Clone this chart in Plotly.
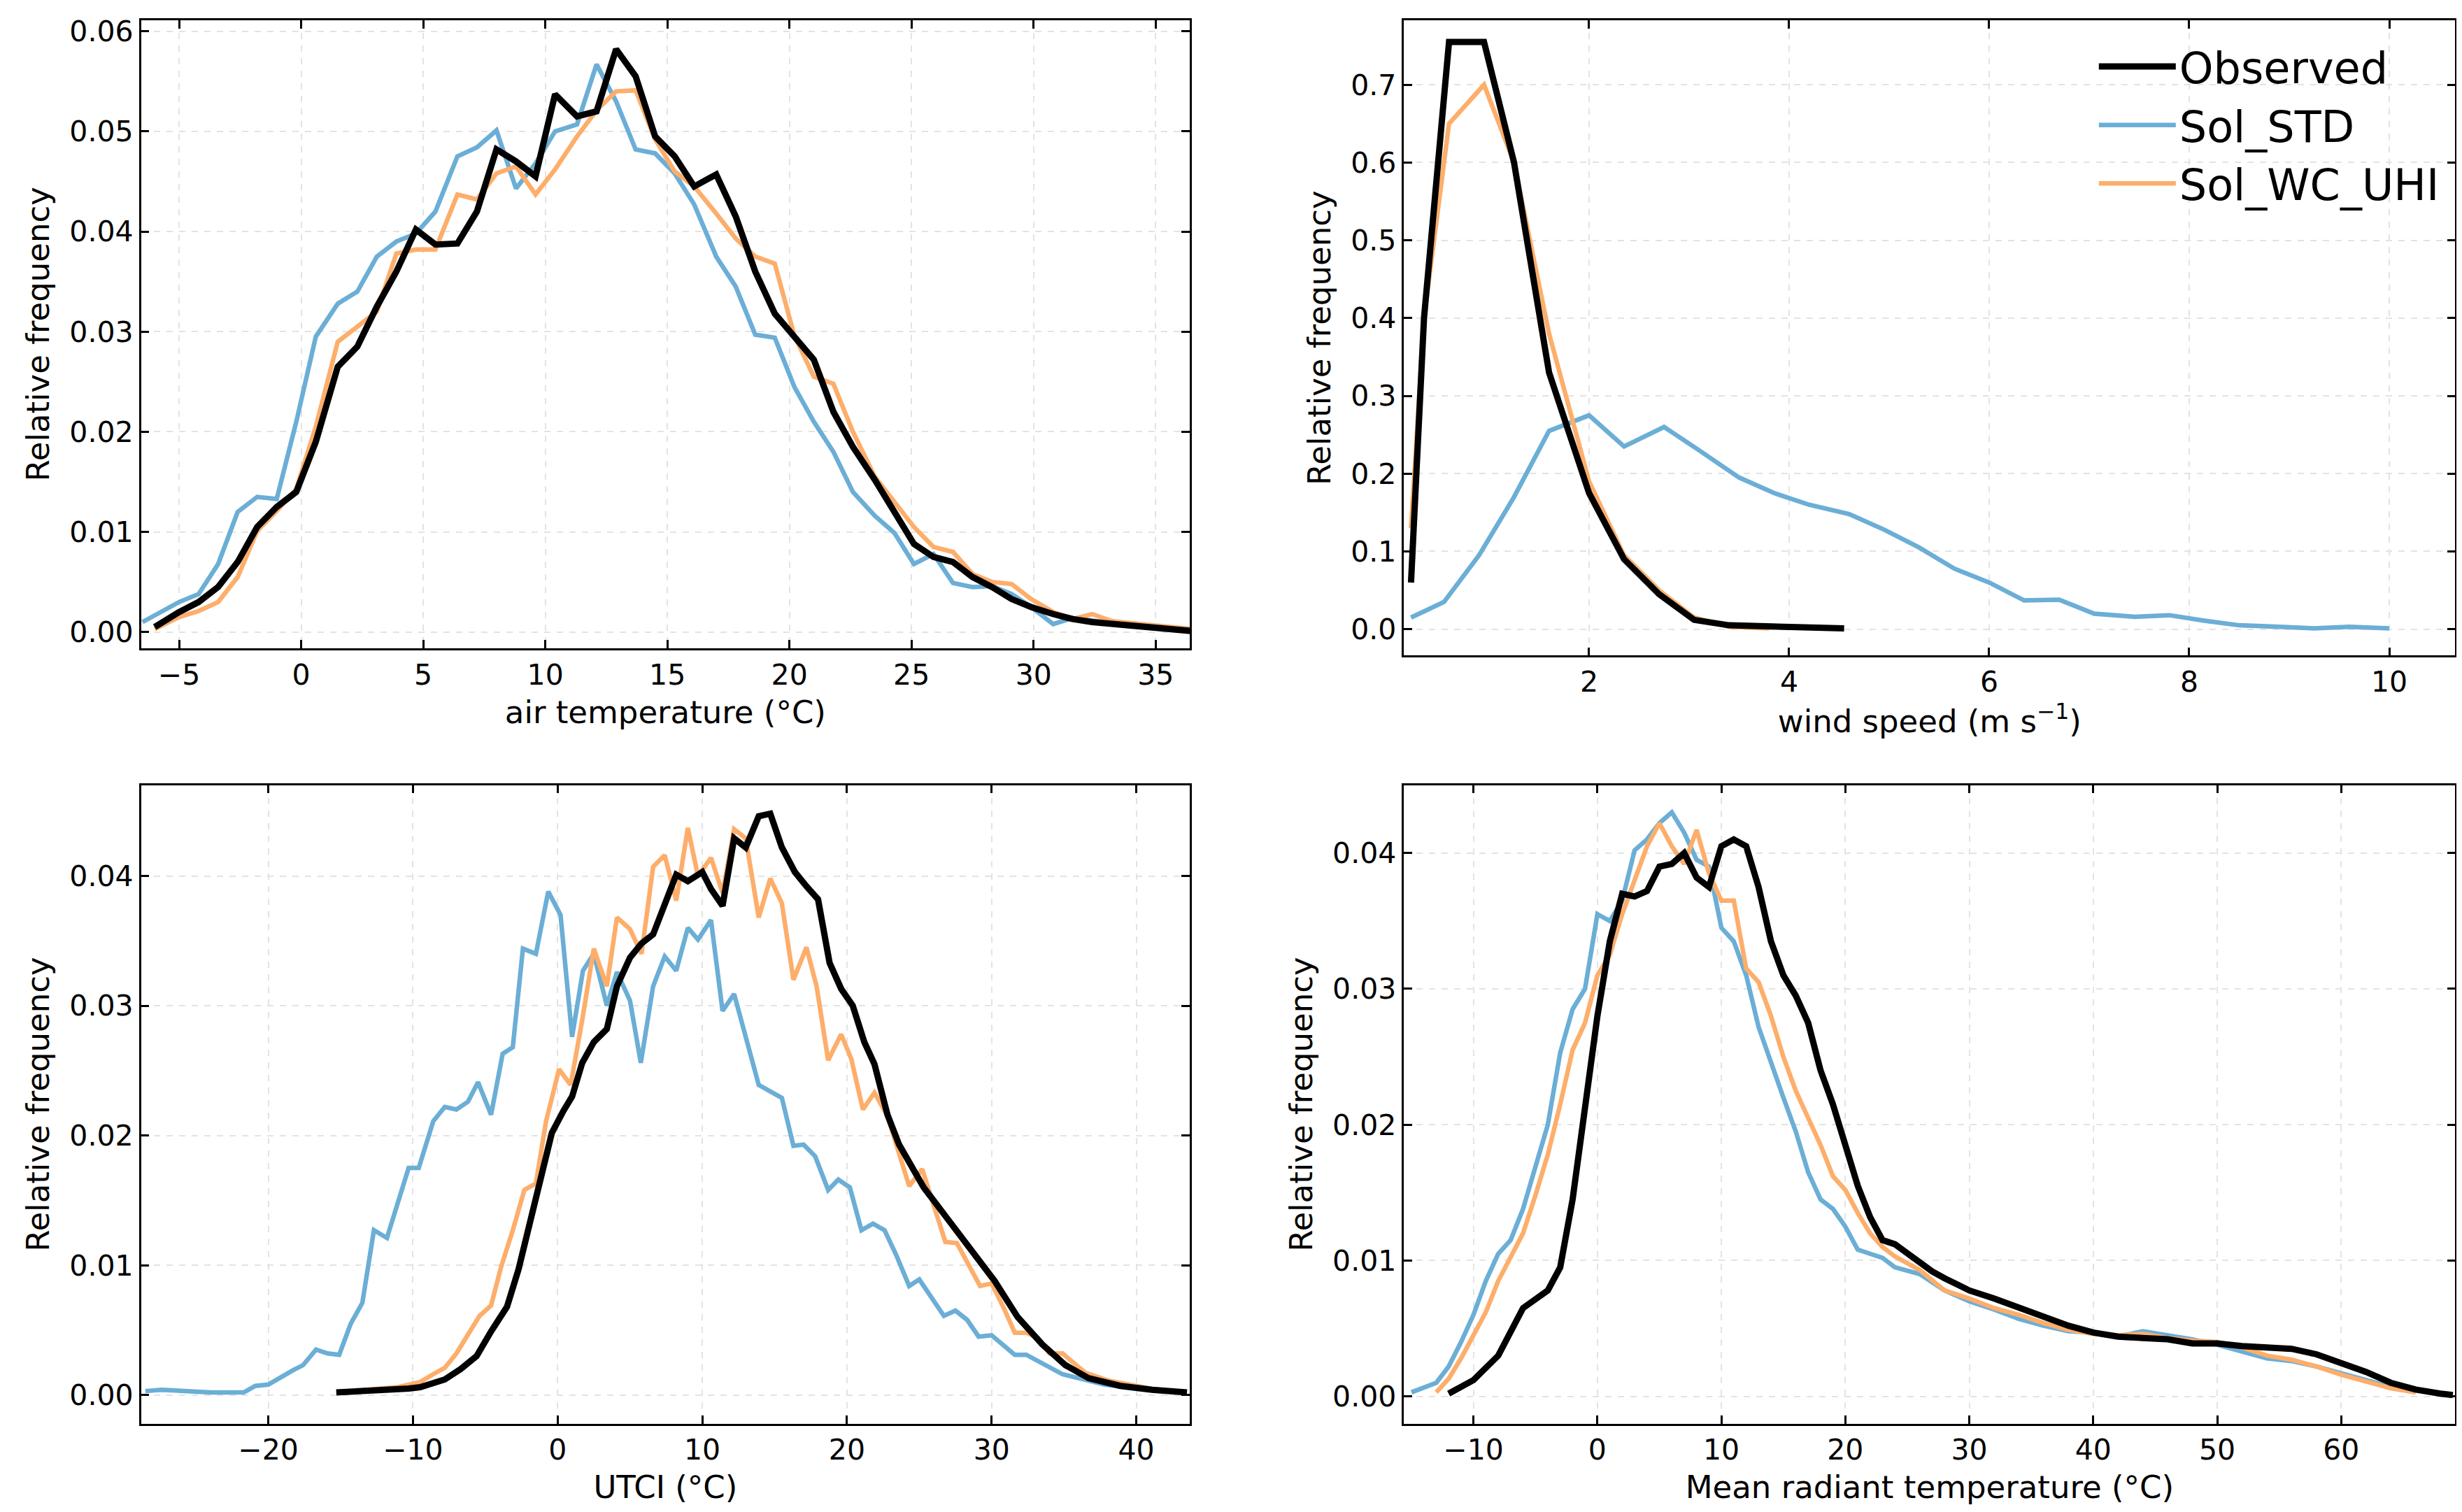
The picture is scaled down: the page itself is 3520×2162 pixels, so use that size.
import plotly.graph_objects as go
from plotly.subplots import make_subplots

# ---- air temperature ----
ta_obs_x = [-6, -5, -4.2, -3.4, -2.6, -1.8, -1, -0.2, 0.6, 1.5, 2.3, 3.1, 3.9, 4.7, 5.5, 6.4, 7.2, 8, 8.8, 9.6, 10.4, 11.3, 12.1, 12.9, 13.7, 14.5, 15.3, 16.1, 17, 17.8, 18.6, 19.4, 20.2, 21, 21.8, 22.6, 23.5, 24.3, 25.1, 25.9, 26.7, 27.5, 28.3, 29.1, 29.9, 30.8, 31.6, 32.4, 33.2, 34, 35.5, 36.5]
ta_obs_y = [0.0005, 0.002, 0.003, 0.0045, 0.007, 0.0105, 0.0125, 0.014, 0.019, 0.0265, 0.0285, 0.0325, 0.036, 0.0402, 0.0387, 0.0388, 0.042, 0.0482, 0.047, 0.0455, 0.0537, 0.0515, 0.052, 0.0582, 0.0555, 0.0495, 0.0475, 0.0445, 0.0457, 0.0415, 0.036, 0.0318, 0.0295, 0.0272, 0.022, 0.0185, 0.0152, 0.012, 0.0088, 0.0075, 0.007, 0.0055, 0.0045, 0.0033, 0.0025, 0.0018, 0.0013, 0.001, 0.0008, 0.0006, 0.0003, 0.0001]
ta_std_x = [-6.5] + ta_obs_x[1:]
ta_std_y = [0.001, 0.003, 0.0038, 0.0068, 0.012, 0.0135, 0.0133, 0.021, 0.0295, 0.0328, 0.034, 0.0375, 0.039, 0.0398, 0.042, 0.0475, 0.0484, 0.0501, 0.0443, 0.0468, 0.05, 0.0507, 0.0567, 0.053, 0.0482, 0.0478, 0.0458, 0.0427, 0.0375, 0.0345, 0.0297, 0.0294, 0.0245, 0.021, 0.018, 0.014, 0.0116, 0.0099, 0.0068, 0.0078, 0.0049, 0.0045, 0.0046, 0.0038, 0.0025, 0.0008, 0.0014, 0.0012, 0.0009, 0.0006, 0.0004, 0.0002]
ta_uhi_x = ta_obs_x
ta_uhi_y = [0.0003, 0.0015, 0.0021, 0.003, 0.0055, 0.0101, 0.0121, 0.0143, 0.0205, 0.029, 0.0305, 0.032, 0.0378, 0.0382, 0.0382, 0.0437, 0.0432, 0.0458, 0.0465, 0.0437, 0.0462, 0.0495, 0.0521, 0.054, 0.0541, 0.0492, 0.046, 0.0445, 0.0418, 0.0393, 0.0375, 0.0368, 0.0296, 0.0255, 0.0248, 0.02, 0.0155, 0.013, 0.0105, 0.0085, 0.008, 0.0058, 0.005, 0.0048, 0.0033, 0.002, 0.0013, 0.0018, 0.0011, 0.0009, 0.0006, 0.0003]

# ---- wind speed ----
ws_obs_x = [0.22, 0.35, 0.6, 0.95, 1.25, 1.6, 2.0, 2.35, 2.7, 3.05, 3.4, 3.8, 4.2, 4.55]
ws_obs_y = [0.06, 0.4, 0.755, 0.755, 0.6, 0.33, 0.175, 0.09, 0.045, 0.012, 0.005, 0.003, 0.001, 0.001]
ws_uhi_x = [0.22, 0.35, 0.6, 0.95, 1.25, 1.6, 2.0, 2.35, 2.7, 3.05, 3.4, 3.8]
ws_uhi_y = [0.13, 0.4, 0.65, 0.7, 0.6, 0.38, 0.19, 0.095, 0.05, 0.015, 0.003, 0.001]
ws_std_x = [0.22, 0.55, 0.9, 1.25, 1.6, 2.0, 2.35, 2.75, 3.1, 3.5, 3.85, 4.2, 4.6, 4.95, 5.3, 5.65, 6.0, 6.35, 6.7, 7.05, 7.45, 7.8, 8.15, 8.5, 8.9, 9.25, 9.6, 10.0]
ws_std_y = [0.015, 0.035, 0.095, 0.17, 0.255, 0.275, 0.235, 0.26, 0.23, 0.195, 0.175, 0.16, 0.148, 0.128, 0.105, 0.078, 0.06, 0.037, 0.038, 0.02, 0.016, 0.018, 0.011, 0.005, 0.003, 0.001, 0.003, 0.001]

# ---- UTCI ----
ut_std_x = [-28.5, -27.4, -24, -21.7, -20.9, -20, -18.3, -17.6, -16.7, -15.9, -15.1, -14.3, -13.5, -12.7, -11.8, -10.3, -9.6, -8.6, -7.8, -7, -6.2, -5.5, -4.6, -3.8, -3.1, -2.4, -1.5, -0.65, 0.2, 1, 1.75, 2.5, 3.4, 4.1, 5, 5.75, 6.6, 7.4, 8.2, 9, 9.7, 10.6, 11.4, 12.2, 13.9, 15.5, 16.3, 17, 17.8, 18.7, 19.4, 20.2, 21, 21.8, 22.6, 23.4, 24.3, 25, 26.7, 27.5, 28.3, 29.1, 30, 31.6, 32.4, 34.9, 37.8, 41.6, 43.5]
ut_std_y = [0.0003, 0.0004, 0.0002, 0.0002, 0.0007, 0.0008, 0.0019, 0.0023, 0.0035, 0.0032, 0.0031, 0.0055, 0.0071, 0.0127, 0.0121, 0.0175, 0.0175, 0.0211, 0.0222, 0.022, 0.0226, 0.0241, 0.0216, 0.0263, 0.0268, 0.0344, 0.034, 0.0388, 0.037, 0.0276, 0.0327, 0.034, 0.030, 0.0326, 0.0304, 0.0256, 0.0315, 0.0338, 0.0327, 0.036, 0.0351, 0.0366, 0.0296, 0.0309, 0.0239, 0.0229, 0.0192, 0.0193, 0.0184, 0.0158, 0.0166, 0.016, 0.0127, 0.0132, 0.0127, 0.0108, 0.0084, 0.0089, 0.0061, 0.0065, 0.0058, 0.0045, 0.0046, 0.0031, 0.0031, 0.0016, 0.0008, 0.0003, 0.0002]
ut_obs_x = [-15.3, -12.7, -10.3, -9.5, -7.8, -6.7, -5.6, -4.6, -3.5, -2.7, -1.8, -1, -0.4, 0.4, 1, 1.7, 2.5, 3.4, 4.1, 5, 5.8, 6.6, 7.4, 8.2, 9, 10, 10.6, 11.4, 12.2, 13, 13.9, 14.7, 15.5, 16.4, 17.2, 18, 18.8, 19.6, 20.4, 21.2, 21.9, 22.8, 23.6, 24.5, 25.3, 26.8, 28.6, 30.2, 31.8, 33.5, 35.1, 36.7, 38.9, 41.1, 43.5]
ut_obs_y = [0.0002, 0.0003, 0.0005, 0.0006, 0.0012, 0.002, 0.003, 0.0049, 0.0068, 0.0097, 0.0138, 0.0171, 0.0202, 0.0219, 0.023, 0.0256, 0.0272, 0.0282, 0.0315, 0.0337, 0.0348, 0.0355, 0.0377, 0.0401, 0.0396, 0.0403, 0.039, 0.0377, 0.0429, 0.0422, 0.0446, 0.0448, 0.0422, 0.0403, 0.0392, 0.0382, 0.0333, 0.0313, 0.030, 0.0272, 0.0255, 0.0216, 0.0193, 0.0175, 0.016, 0.0138, 0.0111, 0.0088, 0.006, 0.0039, 0.0023, 0.0013, 0.0007, 0.0004, 0.0002]
ut_uhi_x = [-15.3, -12.7, -11.1, -10.3, -9.5, -8.6, -7.8, -7, -6.2, -5.4, -4.6, -3.9, -3.1, -2.3, -1.5, -0.8, 0.1, 0.9, 1.7, 2.5, 3.4, 4.1, 5, 5.8, 6.6, 7.4, 8.2, 9, 9.7, 10.6, 11.4, 12.2, 13, 13.9, 14.7, 15.5, 16.3, 17.2, 17.9, 18.7, 19.6, 20.3, 21.1, 21.9, 22.8, 23.6, 24.3, 25.2, 26, 26.8, 27.6, 28.4, 29.2, 30, 30.8, 31.6, 32.4, 33.2, 34, 34.9, 36.5, 38.1, 39.8, 41.4, 43.5]
ut_uhi_y = [0.0002, 0.0004, 0.0006, 0.0008, 0.001, 0.0016, 0.0021, 0.0032, 0.0047, 0.0061, 0.0069, 0.0099, 0.0127, 0.0158, 0.0163, 0.0211, 0.0251, 0.0239, 0.0289, 0.0344, 0.0315, 0.0368, 0.0359, 0.034, 0.0407, 0.0416, 0.0381, 0.0437, 0.040, 0.0414, 0.0387, 0.0436, 0.0429, 0.0368, 0.0398, 0.0379, 0.032, 0.0345, 0.0315, 0.0258, 0.0278, 0.0259, 0.022, 0.0233, 0.0215, 0.0186, 0.0161, 0.0174, 0.0145, 0.0118, 0.0117, 0.0101, 0.0084, 0.0086, 0.0068, 0.0048, 0.0048, 0.0044, 0.0032, 0.0032, 0.0017, 0.0011, 0.0007, 0.0004, 0.0002]

# ---- mean radiant temperature ----
mrt_obs_x = [-12, -10, -8, -6, -4, -3, -2, -1, 0, 1, 2, 3, 4, 5, 6, 7, 8, 9, 10, 11, 12, 13, 14, 15, 16, 17, 18, 19, 20, 21, 22, 23, 24, 25, 26, 27, 28, 29, 30, 32, 34, 36, 38, 40, 42, 44, 46, 48, 50, 52, 54, 56, 58, 60, 62, 64, 66, 68, 69]
mrt_obs_y = [0.0002, 0.0012, 0.003, 0.0065, 0.0078, 0.0095, 0.0145, 0.021, 0.028, 0.0335, 0.037, 0.0368, 0.0372, 0.039, 0.0392, 0.040, 0.0382, 0.0375, 0.0405, 0.041, 0.0405, 0.0375, 0.0335, 0.031, 0.0295, 0.0275, 0.024, 0.0215, 0.0185, 0.0155, 0.0132, 0.0115, 0.0112, 0.0105, 0.0098, 0.0092, 0.0087, 0.0083, 0.0078, 0.0072, 0.0065, 0.0058, 0.0052, 0.0047, 0.0044, 0.0043, 0.0042, 0.0039, 0.0039, 0.0037, 0.0036, 0.0035, 0.0031, 0.0025, 0.0018, 0.001, 0.0005, 0.0002, 0.0001]
mrt_std_x = [-15, -13, -12, -11, -10, -9, -8, -7, -6, -5, -4, -3, -2, -1, 0, 1, 2, 3, 4, 5, 6, 7, 8, 9, 10, 11, 12, 13, 14, 15, 16, 17, 18, 19, 20, 21, 22, 23, 24, 26, 28, 30, 32, 34, 36, 38, 40, 42, 44, 46, 48, 50, 52, 54, 56, 58, 60, 62, 64, 66]
mrt_std_y = [0.0003, 0.001, 0.0022, 0.004, 0.006, 0.0085, 0.0105, 0.0115, 0.0138, 0.017, 0.020, 0.0253, 0.0285, 0.030, 0.0355, 0.035, 0.0365, 0.0402, 0.041, 0.0422, 0.043, 0.0415, 0.0395, 0.039, 0.0345, 0.0335, 0.031, 0.0272, 0.0245, 0.022, 0.0195, 0.0165, 0.0145, 0.0138, 0.0125, 0.0108, 0.0105, 0.0102, 0.0095, 0.009, 0.0078, 0.007, 0.0064, 0.0057, 0.0052, 0.0048, 0.0047, 0.0044, 0.0048, 0.0045, 0.0042, 0.0038, 0.0033, 0.0028, 0.0026, 0.0022, 0.0017, 0.0012, 0.0007, 0.0003]
mrt_uhi_x = [-13, -12, -11, -10, -9, -8, -7, -6, -5, -4, -3, -2, -1, 0, 1, 2, 3, 4, 5, 6, 7, 8, 9, 10, 11, 12, 13, 14, 15, 16, 17, 18, 19, 20, 21, 22, 23, 24, 26, 28, 30, 32, 34, 36, 38, 40, 42, 44, 46, 48, 50, 52, 54, 56, 58, 60, 62, 64, 66]
mrt_uhi_y = [0.0003, 0.0013, 0.0028, 0.0045, 0.0062, 0.0085, 0.0102, 0.012, 0.0148, 0.0178, 0.0215, 0.0255, 0.0275, 0.031, 0.0325, 0.0355, 0.038, 0.0405, 0.0422, 0.0405, 0.0392, 0.0417, 0.0385, 0.0365, 0.0365, 0.0315, 0.0305, 0.028, 0.025, 0.0225, 0.0205, 0.0185, 0.0162, 0.0152, 0.0135, 0.012, 0.011, 0.0103, 0.0093, 0.0078, 0.0072, 0.0065, 0.006, 0.0054, 0.0049, 0.0046, 0.0045, 0.0046, 0.0043, 0.0041, 0.004, 0.0036, 0.003, 0.0027, 0.0022, 0.0016, 0.0011, 0.0006, 0.0003]

names = ["Observed", "Sol_STD", "Sol_WC_UHI"]
colors = ["black", "#6baed6", "#fdae6b"]
widths = [9, 6.5, 6.5]

panels = [
    ((ta_obs_x, ta_obs_y), (ta_std_x, ta_std_y), (ta_uhi_x, ta_uhi_y)),
    ((ws_obs_x, ws_obs_y), (ws_std_x, ws_std_y), (ws_uhi_x, ws_uhi_y)),
    ((ut_obs_x, ut_obs_y), (ut_std_x, ut_std_y), (ut_uhi_x, ut_uhi_y)),
    ((mrt_obs_x, mrt_obs_y), (mrt_std_x, mrt_std_y), (mrt_uhi_x, mrt_uhi_y)),
]

fig = make_subplots(rows=2, cols=2)
fig.update_layout(
    xaxis=dict(domain=[0.055, 0.481]), xaxis2=dict(domain=[0.568, 0.995]),
    xaxis3=dict(domain=[0.055, 0.481]), xaxis4=dict(domain=[0.568, 0.995]),
    yaxis=dict(domain=[0.577, 0.994]), yaxis2=dict(domain=[0.572, 0.994]),
    yaxis3=dict(domain=[0.062, 0.486]), yaxis4=dict(domain=[0.062, 0.486]),
)

for i, series in enumerate(panels):
    r, c = i // 2 + 1, i % 2 + 1
    # draw coloured lines first, observed on top
    for k in [1, 2, 0]:
        x, y = series[k]
        fig.add_trace(go.Scatter(x=x, y=y, mode="lines", name=names[k],
                                 line=dict(color=colors[k], width=widths[k]),
                                 showlegend=(i == 1), legendrank=k),
                      row=r, col=c)

axfmt = dict(showline=True, linecolor="black", linewidth=2.5, mirror="ticks",
             ticks="inside", ticklen=12, tickwidth=2.5, tickcolor="black",
             showgrid=True, gridcolor="#e3e3e3", griddash="dash", gridwidth=2,
             zeroline=False, tickfont=dict(size=41, color="black"),
             title_font=dict(size=45, color="black"))
fig.update_xaxes(**axfmt)
fig.update_yaxes(**axfmt)

fig.update_xaxes(range=[-6.56, 36.4], dtick=5, title_text="air temperature (°C)", row=1, col=1)
fig.update_yaxes(range=[-0.0016, 0.0611], dtick=0.01, tickformat=".2f", title_text="Relative frequency", row=1, col=1)
fig.update_xaxes(range=[0.15, 10.66], tickvals=[2, 4, 6, 8, 10], title_text="wind speed (m s<sup>−1</sup>)", row=1, col=2)
fig.update_yaxes(range=[-0.034, 0.783], dtick=0.1, tickformat=".1f", title_text="Relative frequency", row=1, col=2)
fig.update_xaxes(range=[-28.8, 43.7], dtick=10, title_text="UTCI (°C)", row=2, col=1)
fig.update_yaxes(range=[-0.0022, 0.047], dtick=0.01, tickformat=".2f", title_text="Relative frequency", row=2, col=1)
fig.update_xaxes(range=[-15.6, 69.2], dtick=10, title_text="Mean radiant temperature (°C)", row=2, col=2)
fig.update_yaxes(range=[-0.002, 0.045], dtick=0.01, tickformat=".2f", title_text="Relative frequency", row=2, col=2)

fig.update_layout(
    width=3520, height=2162, plot_bgcolor="white", paper_bgcolor="white",
    font=dict(family="DejaVu Sans", color="black"),
    margin=dict(l=0, r=0, t=0, b=0),
    legend=dict(x=0.99, y=0.985, xanchor="right", yanchor="top",
                font=dict(size=62), bgcolor="rgba(255,255,255,0)",
                traceorder="normal", itemwidth=110),
)

fig.write_html("out.html")
